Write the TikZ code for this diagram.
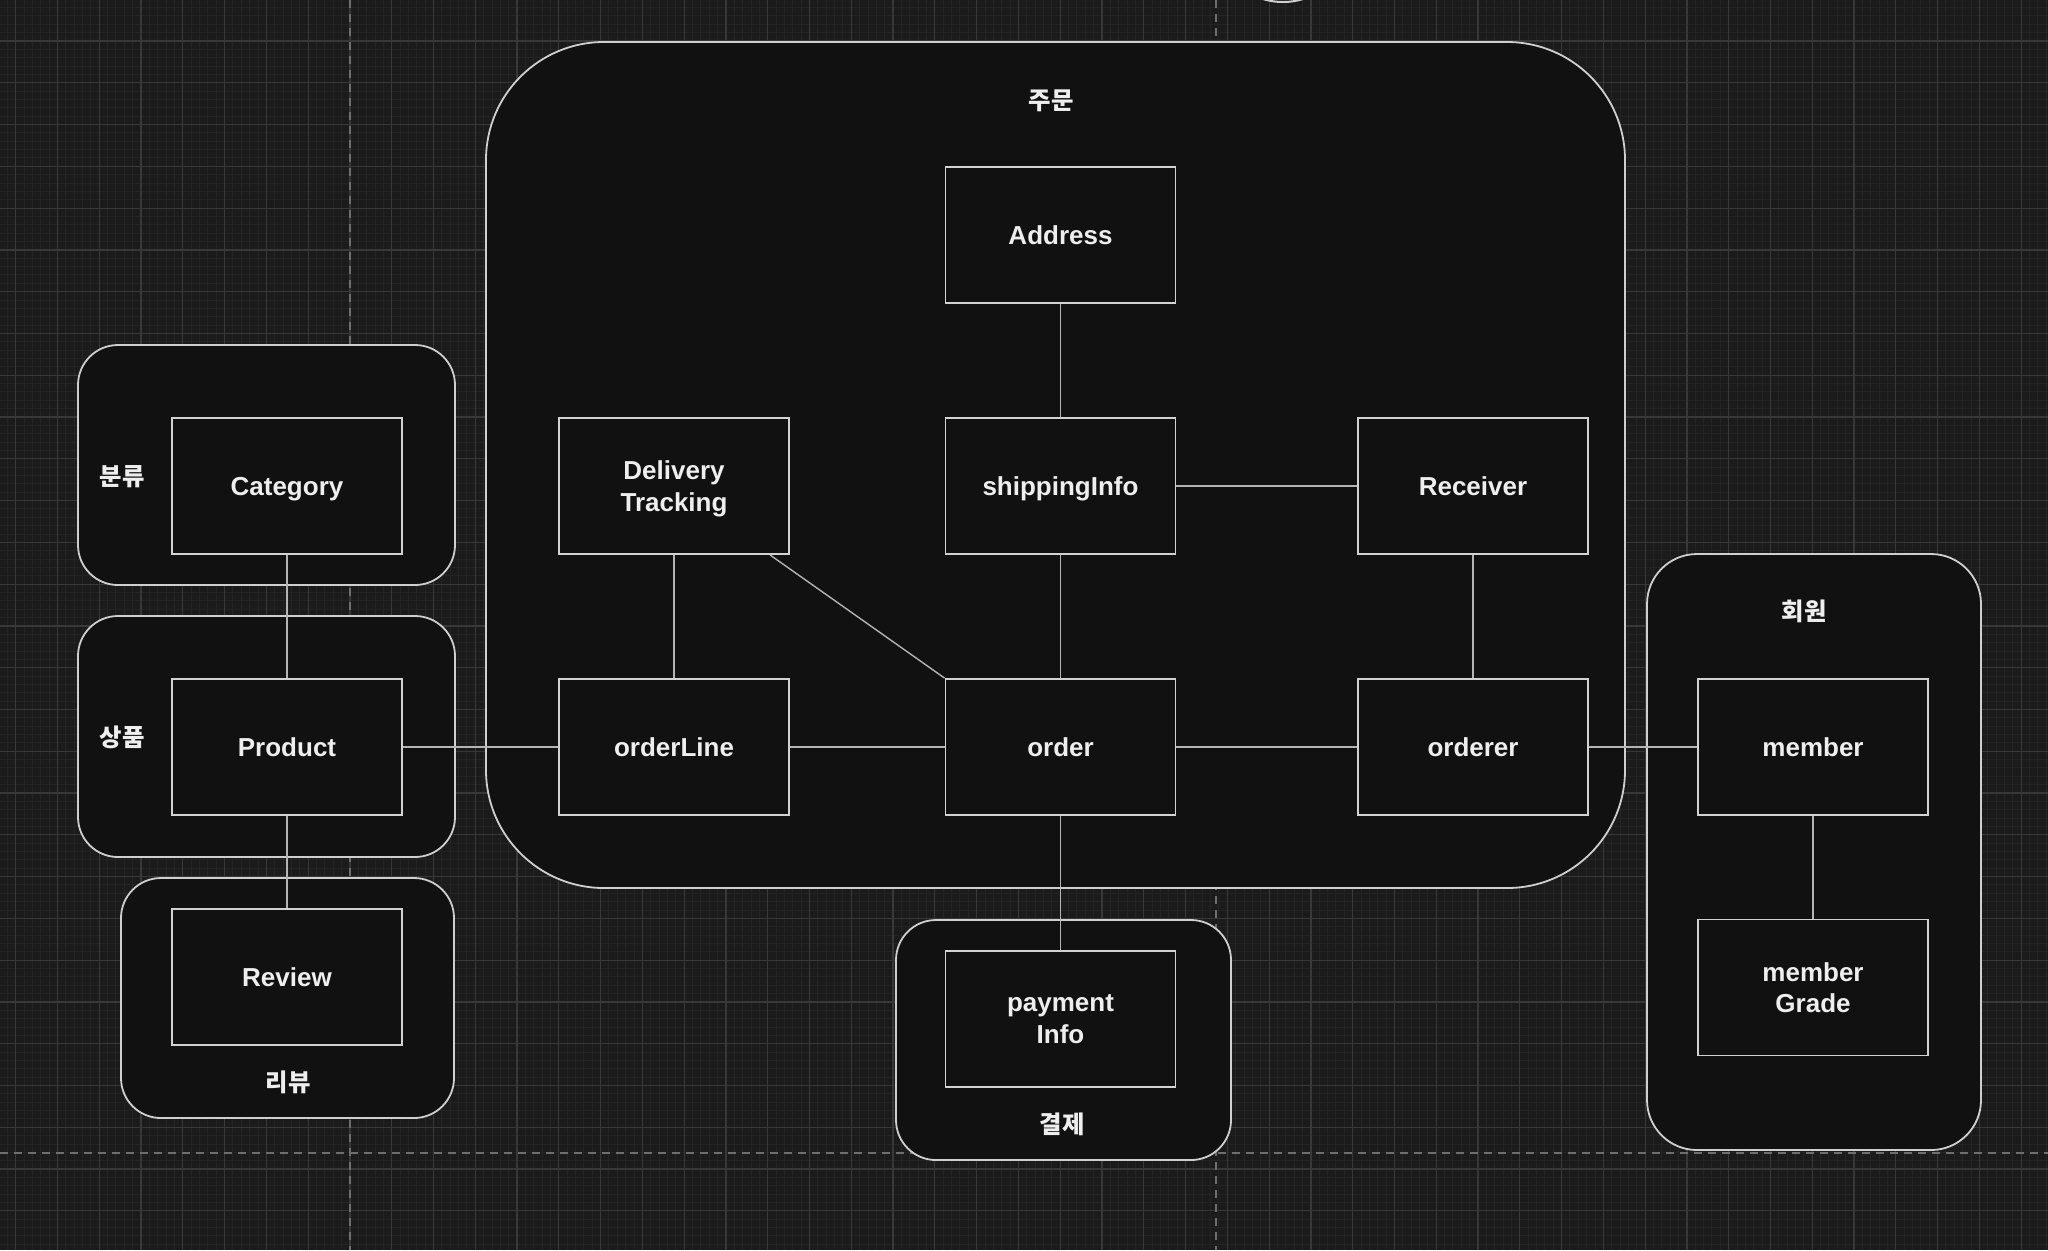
\documentclass[tikz,border=0pt]{standalone}
\usepackage{fontspec}
\setmainfont{Liberation Sans}
\newfontfamily\kr{Noto Sans CJK KR}
\definecolor{bg}{HTML}{1B1B1B}
\definecolor{gmajor}{HTML}{383838}
\definecolor{gminor}{HTML}{232323}
\definecolor{dashc}{HTML}{6E6E6E}
\definecolor{boxfill}{HTML}{111111}
\definecolor{boxline}{HTML}{D2D2D2}
\definecolor{grpline}{HTML}{CFCFCF}
\definecolor{linkc}{HTML}{B4B4B4}
\definecolor{txt}{HTML}{EEEEEE}
\begin{document}
\begin{tikzpicture}[x=0.5pt,y=-0.5pt,
  ent/.style={draw=boxline, fill=boxfill, line width=0.9pt, minimum width=115pt, minimum height=68pt,
    text=txt, font=\bfseries\fontsize{13}{15.7}\selectfont, align=center, inner sep=0pt, text depth=0pt},
  grp/.style={draw=grpline, fill=boxfill, line width=0.9pt, inner sep=0pt},
  lbl/.style={text=txt, font=\kr\bfseries\fontsize{12.2}{14}\selectfont, inner sep=0pt},
  link/.style={draw=linkc, line width=0.7pt},
  gminorl/.style={draw=gminor, line width=0.5pt},
  gmajorl/.style={draw=gmajor, line width=0.6pt},
  dashl/.style={draw=dashc, line width=0.8pt, dash pattern=on 4pt off 3pt}]
\useasboundingbox (0,0) rectangle (2048,1250);
\fill[bg] (0,0) rectangle (2048,1250);
% minor grid
\foreach \i in {-2,...,243} {\draw[gminorl] ({15.7+8.356*\i},0) -- ({15.7+8.356*\i},1250);}
\foreach \i in {-5,...,145} {\draw[gminorl] (0,{41+8.356*\i}) -- (2048,{41+8.356*\i});}
% major grid
\foreach \k in {0,...,48} {\draw[gmajorl] ({15.7+41.78*\k},0) -- ({15.7+41.78*\k},1250);}
\foreach \k in {-1,...,29} {\draw[gmajorl] (0,{41+41.78*\k}) -- (2048,{41+41.78*\k});}
% dashed guides
\draw[dashl] (350,0) -- (350,1250);
\draw[dashl] (1215.7,0) -- (1215.7,1250);
\draw[dashl] (0,1153) -- (2048,1153);
% partial circle at top edge
\draw[grpline, line width=1pt] (1283,-67) circle[radius=69];

% groups
\node[grp, minimum width=569.5pt, minimum height=423pt, rounded corners=59pt] (gOrder) at (1055.5,465) {};
\node[grp, minimum width=188.5pt, minimum height=120pt, rounded corners=20pt] (gCat) at (266.5,465) {};
\node[grp, minimum width=188.5pt, minimum height=120.5pt, rounded corners=20pt] (gProd) at (266.5,736.5) {};
\node[grp, minimum width=166.5pt, minimum height=120pt, rounded corners=20pt] (gRev) at (287.5,998) {};
\node[grp, minimum width=167.5pt, minimum height=120pt, rounded corners=20pt] (gPay) at (1063.5,1040) {};
\node[grp, minimum width=167pt, minimum height=298pt, rounded corners=25pt] (gMem) at (1814,852) {};

% group labels
\node[lbl] (lOrder) at (1051,100.5) {주문};
\node[lbl] (lCat) at (122,476.3) {분류};
\node[lbl] (lProd) at (122,737.3) {상품};
\node[lbl] (lRev) at (288,1082.3) {리뷰};
\node[lbl] (lPay) at (1062,1124.3) {결제};
\node[lbl] (lMem) at (1804,611.5) {회원};

% entities
\node[ent] (address) at (1060.5,235) {Address};
\node[ent] (delivery) at (674,486) {Delivery\\Tracking};
\node[ent] (shipping) at (1060.5,486) {shippingInfo};
\node[ent] (receiver) at (1473,486) {Receiver};
\node[ent] (orderline) at (674,747) {orderLine};
\node[ent] (order) at (1060.5,747) {order};
\node[ent] (orderer) at (1473,747) {orderer};
\node[ent] (category) at (287,486) {Category};
\node[ent] (product) at (287,747) {Product};
\node[ent] (review) at (287,977) {Review};
\node[ent] (payment) at (1060.5,1019) {payment\\Info};
\node[ent] (member) at (1813,747) {member};
\node[ent] (grade) at (1813,987.5) {member\\Grade};

% connectors
\draw[link] (address.south) -- (shipping.north);
\draw[link] (shipping.east) -- (receiver.west);
\draw[link] (shipping.south) -- (order.north);
\draw[link] (receiver.south) -- (orderer.north);
\draw[link] (delivery.south) -- (orderline.north);
\draw[link] ([xshift=48pt]delivery.south) -- (order.north west);
\draw[link] (orderline.east) -- (order.west);
\draw[link] (order.east) -- (orderer.west);
\draw[link] (orderer.east) -- (member.west);
\draw[link] (product.east) -- (orderline.west);
\draw[link] (category.south) -- (product.north);
\draw[link] (product.south) -- (review.north);
\draw[link] (order.south) -- (payment.north);
\draw[link] (member.south) -- (grade.north);
\end{tikzpicture}
\end{document}
